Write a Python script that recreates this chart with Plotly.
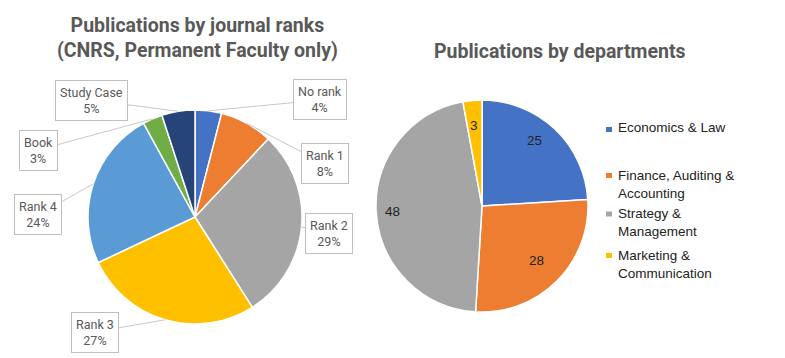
import math
import plotly.graph_objects as go

# ---------------- data ----------------
rank_labels = ["No rank", "Rank 1", "Rank 2", "Rank 3", "Rank 4", "Book", "Study Case"]
rank_values = [4, 8, 29, 27, 24, 3, 5]          # percent
rank_colors = ["#4472C4", "#ED7D31", "#A5A5A5", "#FFC000", "#5B9BD5", "#70AD47", "#264478"]

dept_labels = ["Economics & Law", "Finance, Auditing & Accounting",
               "Strategy & Management", "Marketing & Communication"]
dept_legend_text = ["Economics & Law", "Finance, Auditing &<br>Accounting",
                    "Strategy &<br>Management", "Marketing &<br>Communication"]
dept_values = [25, 28, 48, 3]
dept_colors = ["#4472C4", "#ED7D31", "#A5A5A5", "#FFC000"]

title_left = "Publications by journal ranks<br>(CNRS, Permanent Faculty only)"
title_right = "Publications by departments"

# ---------------- layout constants (pixels in the window) ----------------
OFF = 8                      # page body margin
W, H = 785 - OFF, 358 - OFF
def px(x): return (x - OFF) / W
def py(y): return 1 - (y - OFF) / H

L_CX, L_CY, L_R = 195, 217, 107
R_CX, R_CY, R_R = 482, 206, 106

# label box centres for the left pie (pixels)
label_box_px = [(320, 100), (325, 164), (329, 233), (95, 332), (38, 215), (38, 150), (91, 100)]

legend_marker_y = [129.5, 175.5, 214, 255.5]
legend_text_y = [128, 176, 214, 256]
LEG_MX, LEG_TX = 609, 616

TEXT_GREY = "#595959"
LABEL_FONT = dict(family="Roboto", size=12.5, color=TEXT_GREY)
LEG_FONT = dict(family="Liberation Sans, Arial", size=13.5, color="#222222")

fig = go.Figure()

fig.add_trace(go.Pie(
    labels=rank_labels, values=rank_values, sort=False, direction="clockwise", rotation=0,
    marker=dict(colors=rank_colors, line=dict(color="white", width=1.5)),
    textinfo="none", hoverinfo="label+percent", showlegend=False,
    domain=dict(x=[px(L_CX - L_R), px(L_CX + L_R)], y=[py(L_CY + L_R), py(L_CY - L_R)]),
))

fig.add_trace(go.Pie(
    labels=dept_labels, values=dept_values, sort=False, direction="clockwise", rotation=0,
    marker=dict(colors=dept_colors, line=dict(color="white", width=1.5)),
    textinfo="none", hoverinfo="label+value", showlegend=False,
    domain=dict(x=[px(R_CX - R_R), px(R_CX + R_R)], y=[py(R_CY + R_R), py(R_CY - R_R)]),
))

annotations = []
shapes = []

# left pie: boxed outside labels with leader lines, from slice mid-angles
total = sum(rank_values)
cum = 0
for lab, v, (bx, by) in zip(rank_labels, rank_values, label_box_px):
    mid = (cum + v / 2) / total * 2 * math.pi
    cum += v
    hx = L_CX + L_R * math.sin(mid)
    hy = L_CY - L_R * math.cos(mid)
    annotations.append(dict(
        x=px(hx), y=py(hy), xref="paper", yref="paper",
        text=f"{lab}<br>{round(v / total * 100)}%",
        showarrow=True, arrowhead=0, arrowwidth=1, arrowcolor="#C8C8C8",
        ax=bx - hx, ay=by - hy,
        font=LABEL_FONT, bordercolor="#BFBFBF", borderwidth=1, borderpad=4,
        bgcolor="white", align="center",
    ))

# right pie: values inside slices
total = sum(dept_values)
cum = 0
for v in dept_values:
    mid = (cum + v / 2) / total * 2 * math.pi
    cum += v
    tx = R_CX + 0.85 * R_R * math.sin(mid)
    ty = R_CY - 0.85 * R_R * math.cos(mid)
    annotations.append(dict(
        x=px(tx), y=py(ty), xref="paper", yref="paper", text=str(v), showarrow=False,
        font=LEG_FONT,
    ))

# custom legend for the right pie
for txt, col, my, ty in zip(dept_legend_text, dept_colors, legend_marker_y, legend_text_y):
    shapes.append(dict(type="rect", xref="paper", yref="paper",
                       x0=px(LEG_MX - 3), x1=px(LEG_MX + 3), y0=py(my + 2.5), y1=py(my - 2.5),
                       fillcolor=col, line=dict(width=0)))
    annotations.append(dict(
        x=px(LEG_TX), y=py(ty - 10), xref="paper", yref="paper", xanchor="left", yanchor="top",
        text=txt, showarrow=False, align="left", font=LEG_FONT,
    ))

# titles
annotations.append(dict(x=px(197), y=py(38), xref="paper", yref="paper", text=title_left,
                        showarrow=False, xanchor="center", yanchor="middle",
                        font=dict(family="Roboto", size=19.5, color=TEXT_GREY, weight="bold")))
annotations.append(dict(x=px(560), y=py(52), xref="paper", yref="paper", text=title_right,
                        showarrow=False, xanchor="center", yanchor="middle",
                        font=dict(family="Roboto", size=19.5, color=TEXT_GREY, weight="bold")))

fig.update_layout(
    width=W, height=H, margin=dict(l=0, r=0, t=0, b=0),
    paper_bgcolor="white", plot_bgcolor="white",
    annotations=annotations, shapes=shapes, showlegend=False,
)

fig.write_html("out.html")
